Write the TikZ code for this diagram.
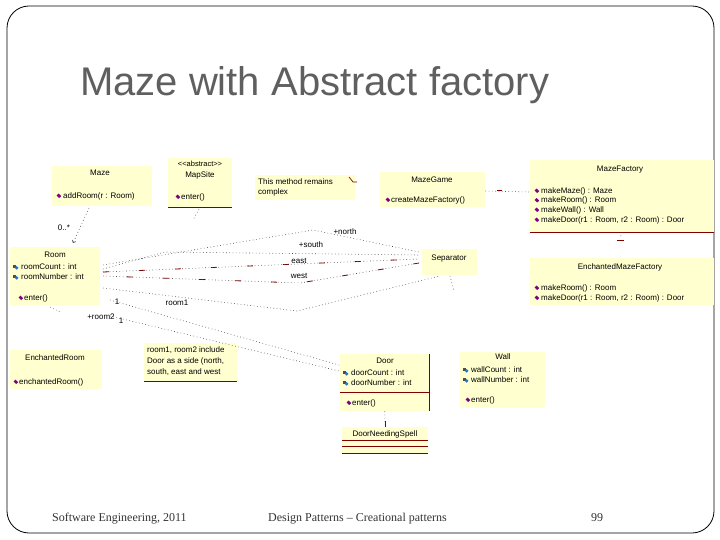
\documentclass[tikz,border=0pt]{standalone}
\usepackage{fontspec}
\setmainfont{Liberation Sans}
\newfontfamily\footfont{Liberation Serif}
\usetikzlibrary{arrows.meta}
\definecolor{umlfill}{RGB}{255,255,208}
\definecolor{umlline}{RGB}{128,0,0}
\definecolor{methicon}{RGB}{128,0,128}
\definecolor{titlegray}{RGB}{95,95,95}
\definecolor{attrblue}{RGB}{40,120,200}
\tikzset{
  umlbox/.style={fill=umlfill, draw=none, inner sep=0pt, anchor=north west},
  ctitle/.style={font=\fontsize{8}{9}\selectfont, inner sep=0pt, anchor=center},
  cmem/.style={font=\fontsize{8}{9}\selectfont, inner sep=0pt, anchor=west},
  lbl/.style={font=\fontsize{8}{9}\selectfont, inner sep=0pt},
  rel/.style={line width=0.6pt, black!70, dash pattern=on 0.7pt off 2.6pt},
  reldash/.style={line width=0.8pt, umlline, dash pattern=on 6pt off 30pt},
  umlrule/.style={umlline, line width=0.8pt},
  meth/.pic={\fill[methicon] (-2.4,-0.6) -- (-0.4,-2.4) -- (2.2,0.2) -- (0.2,2) -- cycle;},
  attr/.pic={\fill[gray!60!black] (-2.8,-2.2) rectangle (0.2,0.8);
             \fill[attrblue] (0.6,0.8) circle (1.9);},
  foot/.style={font=\footfont\fontsize{12}{14}\selectfont, text=black!80, anchor=base west, inner sep=0pt}
}
\begin{document}
\begin{tikzpicture}[x=1pt,y=-1pt]
\useasboundingbox (0,0) rectangle (720,540);
% slide frame
\draw[line width=0.8pt, rounded corners=22pt] (7,6) rectangle (714,533);
\node[font=\fontsize{40}{44}\selectfont, text=titlegray, anchor=base west, inner sep=0pt] (title) at (80,96) {Maze with Abstract factory};

% ---- Maze
\node[umlbox, minimum width=100pt, minimum height=40pt] (maze) at (52,166) {};
\node[ctitle] (mazeT) at (100,173) {Maze};
\pic at (59,196) {meth};
\node[cmem] (mazeM1) at (63,196) {addRoom(r : Room)};

% ---- MapSite
\node[umlbox, minimum width=64pt, minimum height=49pt] (mapsite) at (168,158) {};
\node[ctitle, font=\fontsize{7.5}{8}\selectfont] (mapsiteS) at (200,164) {<{}<abstract>{}>};
\node[ctitle] (mapsiteT) at (200,175) {MapSite};
\pic at (178,197) {meth};
\node[cmem] (mapsiteM1) at (181,197) {enter()};
\draw[umlrule] (mapsite.south west) -- (mapsite.south east);

% ---- note 1
\node[umlbox, minimum width=100pt, minimum height=25pt] (note1) at (255,175) {};
\node[cmem] (note1a) at (258,182) {This method remains};
\node[cmem] (note1b) at (258,192) {complex};
\draw[umlline, line width=0.7pt] (349,177) -- (353,182) -- (357,182);

% ---- MazeGame
\node[umlbox, minimum width=105pt, minimum height=35pt] (mazegame) at (380,172) {};
\node[ctitle] (mazegameT) at (432,180) {MazeGame};
\pic at (388,200) {meth};
\node[cmem] (mazegameM1) at (391,200) {createMazeFactory()};

% ---- MazeFactory
\node[umlbox, minimum width=184pt, minimum height=72pt] (mf) at (530,160) {};
\node[ctitle] (mfT) at (620,170) {MazeFactory};
\pic at (537,191) {meth}; \node[cmem] (mfM1) at (541,191) {makeMaze() : Maze};
\pic at (537,200.5) {meth}; \node[cmem] (mfM2) at (541,200.5) {makeRoom() : Room};
\pic at (537,210) {meth}; \node[cmem] (mfM3) at (541,210) {makeWall() : Wall};
\pic at (537,220) {meth}; \node[cmem] (mfM4) at (541,220) {makeDoor(r1 : Room, r2 : Room) : Door};
\draw[umlrule] (mf.south west) -- (mf.south east);

% ---- EnchantedMazeFactory
\node[umlbox, minimum width=184pt, minimum height=47pt] (emf) at (530,258) {};
\node[ctitle] (emfT) at (620,267) {EnchantedMazeFactory};
\pic at (537,288) {meth}; \node[cmem] (emfM1) at (541,288) {makeRoom() : Room};
\pic at (537,298) {meth}; \node[cmem] (emfM2) at (541,298) {makeDoor(r1 : Room, r2 : Room) : Door};

% ---- Room
\node[umlbox, minimum width=90pt, minimum height=58pt] (room) at (10,247) {};
\node[ctitle] (roomT) at (55,255) {Room};
\pic at (16,267) {attr}; \node[cmem] (roomA1) at (21,267) {roomCount : int};
\pic at (16,277) {attr}; \node[cmem] (roomA2) at (21,277) {roomNumber : int};
\pic at (21,298) {meth}; \node[cmem] (roomM1) at (24,298) {enter()};

% ---- Separator
\node[umlbox, minimum width=55pt, minimum height=26pt] (sep) at (422,249) {};
\node[ctitle] (sepT) at (449,259) {Separator};

% ---- EnchantedRoom
\node[umlbox, minimum width=92pt, minimum height=39pt] (eroom) at (10,350) {};
\node[ctitle] (eroomT) at (55,358) {EnchantedRoom};
\pic at (16,382) {meth}; \node[cmem] (eroomM1) at (19,382) {enchantedRoom()};

% ---- note 2
\node[umlbox, minimum width=93pt, minimum height=38pt] (note2) at (144,343) {};
\node[cmem] (note2a) at (147,350) {room1, room2 include};
\node[cmem] (note2b) at (147,361) {Door as a side (north,};
\node[cmem] (note2c) at (147,372) {south, east and west};
\draw[umlrule] (note2.south west) -- (note2.south east);

% ---- Door
\node[umlbox, minimum width=89pt, minimum height=57pt] (door) at (340,354) {};
\node[ctitle] (doorT) at (385,361) {Door};
\pic at (346,373) {attr}; \node[cmem] (doorA1) at (351,373) {doorCount : int};
\pic at (346,383) {attr}; \node[cmem] (doorA2) at (351,383) {doorNumber : int};
\draw[umlrule] (340,392) -- (429,392);
\pic at (349,403) {meth}; \node[cmem] (doorM1) at (352,403) {enter()};
\draw[umlrule] (door.north east) -- (door.south east);

% ---- DoorNeedingSpell
\node[umlbox, minimum width=86pt, minimum height=26pt] (dns) at (342,427) {};
\node[ctitle] (dnsT) at (385,434) {DoorNeedingSpell};
\draw[umlrule] (342,440) -- (428,440);
\draw[umlrule] (342,446.5) -- (428,446.5);
\draw[umlrule] (dns.south west) -- (dns.south east);

% ---- Wall
\node[umlbox, minimum width=85pt, minimum height=56pt] (wall) at (460,352) {};
\node[ctitle] (wallT) at (503,357) {Wall};
\pic at (466,370) {attr}; \node[cmem] (wallA1) at (471,370) {wallCount : int};
\pic at (466,380) {attr}; \node[cmem] (wallA2) at (471,380) {wallNumber : int};
\pic at (468,400) {meth}; \node[cmem] (wallM1) at (471,400) {enter()};

% ---- connectors
\coordinate (mazeB) at (89,208);
\coordinate (roomTop) at (73,243);
\draw[rel, -{Straight Barb[length=2pt,width=4pt]}] (mazeB) -- (roomTop);
\node[lbl] (mult) at (64,228) {0..*};

\coordinate (mapB) at (199,209);
\coordinate (mapB2) at (193,220);
\draw[rel] (mapB) -- (mapB2);

\coordinate (rN) at (103,265);
\coordinate (rS) at (103,269);
\coordinate (rE) at (103,272);
\coordinate (rW) at (103,276);
\coordinate (rX) at (103,288);
\coordinate (sN) at (419,252);
\coordinate (sS) at (419,255);
\coordinate (sE) at (419,259);
\coordinate (sW) at (419,263);
\coordinate (sX) at (440,276);
\draw[rel] (rN) -- (313,230) -- (sN);
\draw[rel] (rS) -- (165,252) -- (sS);
\draw[reldash] (rE) -- (sE);
\draw[rel] (rE) -- (sE);
\draw[reldash, dash phase=12pt] (rW) -- (300,283) -- (sW);
\draw[rel] (rW) -- (300,283) -- (sW);
\draw[rel] (rX) -- (297,311) -- (sX);
\draw[rel] (450,276) -- (454,291);
\node[lbl] (lnorth) at (345,232) {+north};
\node[lbl] (lsouth) at (311,245) {+south};
\node[lbl] (least) at (299,261) {east};
\node[lbl] (lwest) at (299,276) {west};

\coordinate (r1s) at (110,300);
\coordinate (r2s) at (110,316);
\coordinate (d1) at (339,365);
\coordinate (d2) at (339,371);
\draw[rel] (r1s) -- (d1);
\draw[rel] (r2s) -- (d2);
\node[lbl] (m1) at (117,302) {1};
\node[lbl] (lroom1) at (177,303) {room1};
\node[lbl] (lroom2) at (101,317) {+room2};
\node[lbl] (m2) at (121,321) {1};

\coordinate (roomB) at (50,307);
\coordinate (roomB2) at (60,312);
\draw[rel] (roomB) -- (roomB2);

% MazeGame - MazeFactory
\draw[rel] (mazegame.east |- 0,191) -- (mf.west |- 0,192);
\draw[umlline, line width=0.8pt] (497,190) -- (502,190);

% generalization mark between factories
\draw[umlline, line width=0.8pt] (617,240) -- (624,240);
\draw[rel] (mf.south) -- (620,238);

% Door - DoorNeedingSpell
\draw[rel] (door.south) -- (dns.north);
\draw[umlline, line width=0.8pt] (385,421) -- (385,427);

% footer
\node[foot] (f1) at (52,521) {Software Engineering, 2011};
\node[foot] (f2) at (268,521) {Design Patterns – Creational patterns};
\node[foot] (f3) at (591,521) {99};
\end{tikzpicture}
\end{document}
